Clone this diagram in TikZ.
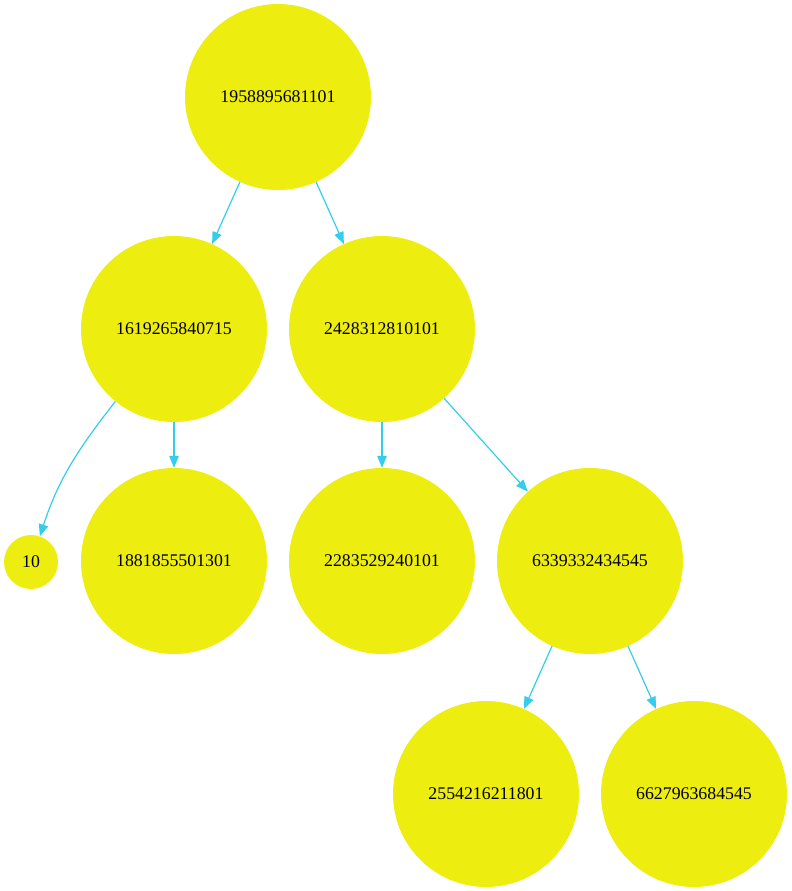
\documentclass[tikz,border=0pt]{standalone}
\usepackage{fontspec}
\setmainfont{Liberation Serif}
\usetikzlibrary{arrows.meta}
\definecolor{nodefill}{RGB}{237,237,16}
\definecolor{edgecol}{RGB}{52,206,236}
\tikzset{
  tnode/.style={circle, fill=nodefill, draw=none, minimum size=186pt, inner sep=0pt, font=\fontsize{17.8}{20}\selectfont},
  snode/.style={circle, fill=nodefill, draw=none, minimum size=54pt, inner sep=0pt, font=\fontsize{17.8}{20}\selectfont},
  edge/.style={draw=edgecol, line width=1.2pt, -{Triangle[length=12pt,width=9.5pt]}}
}
\begin{document}
\begin{tikzpicture}[x=1pt,y=-1pt]
\useasboundingbox (0,0) rectangle (792,891);
\node[tnode] (r) at (278,97) {1958895681101};
\node[tnode] (a) at (174,329) {1619265840715};
\node[tnode] (b) at (382,329) {2428312810101};
\node[snode] (t) at (31,562) {10};
\node[tnode] (c) at (174,561) {1881855501301};
\node[tnode] (d) at (382,561) {2283529240101};
\node[tnode] (e) at (590,561) {6339332434545};
\node[tnode] (f) at (486,794) {2554216211801};
\node[tnode] (g) at (694,794) {6627963684545};
\draw[edge] (r) -- (a);
\draw[edge] (r) -- (b);
\draw[edge] (a.231) to[out=232,in=72] (t.71);
\draw[edge] (a) -- (c);
\draw[edge] (b) -- (d);
\draw[edge] (b) -- (e);
\draw[edge] (e) -- (f);
\draw[edge] (e) -- (g);
\end{tikzpicture}
\end{document}
